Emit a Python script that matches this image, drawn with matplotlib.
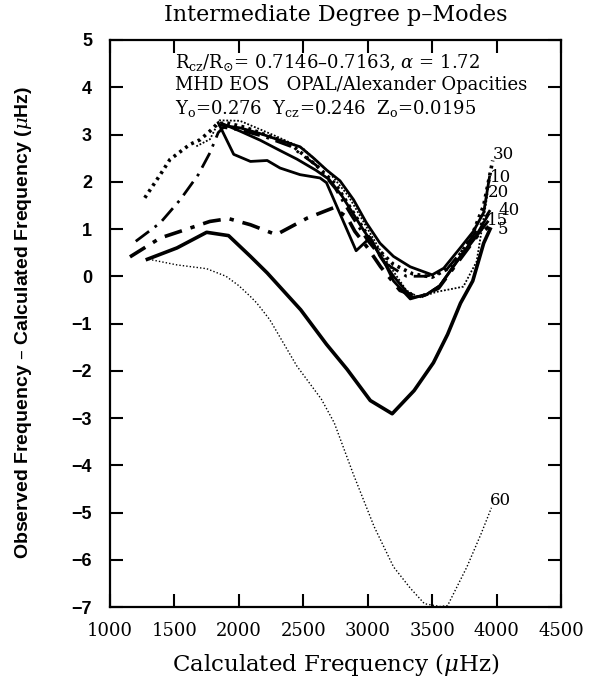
import matplotlib
matplotlib.use("Agg")
import matplotlib.pyplot as plt

plt.rcParams['mathtext.fontset'] = 'dejavuserif'

# ---- data ----
x_ticks = [1000, 1500, 2000, 2500, 3000, 3500, 4000, 4500]
y_ticks = [5, 4, 3, 2, 1, 0, -1, -2, -3, -4, -5, -6, -7]

# thin dotted, l = 60
f_l60 = [1300, 1520, 1750, 1900, 2000, 2090, 2140, 2240, 2450, 2640, 2740, 2890, 3050, 3200, 3330, 3440, 3560, 3620, 3770, 3880, 3960]
d_l60 = [0.36, 0.24, 0.16, 0.0, -0.2, -0.43, -0.57, -0.92, -1.9, -2.6, -3.1, -4.2, -5.3, -6.15, -6.6, -6.93, -6.99, -6.97, -6.15, -5.45, -4.9]

# thick solid, deepest dip
f_deep = [1290, 1520, 1750, 1920, 2090, 2220, 2480, 2680, 2840, 3020, 3190, 3360, 3510, 3620, 3720, 3815, 3900, 3950]
d_deep = [0.36, 0.6, 0.93, 0.86, 0.42, 0.07, -0.71, -1.44, -1.97, -2.63, -2.91, -2.42, -1.83, -1.23, -0.57, -0.1, 0.7, 1.0]

# solid, upper path
f_sol1 = [1850, 2010, 2165, 2295, 2475, 2580, 2680, 2785, 2890, 2990, 3095, 3200, 3330, 3500, 3590, 3715, 3820, 3900, 3945]
d_sol1 = [3.2, 3.14, 3.02, 2.9, 2.74, 2.5, 2.25, 2.02, 1.62, 1.13, 0.7, 0.42, 0.2, 0.03, 0.17, 0.59, 0.95, 1.35, 2.1]

# solid, second path
f_sol2 = [1880, 2010, 2165, 2320, 2450, 2600, 2700, 2800, 2950, 3120, 3200, 3330, 3460, 3560, 3690, 3845, 3930]
d_sol2 = [3.22, 3.07, 2.88, 2.66, 2.48, 2.24, 2.05, 1.7, 1.05, 0.35, -0.1, -0.48, -0.38, -0.2, 0.3, 0.85, 1.15]

# solid with loop
f_sol3 = [1840, 1960, 2090, 2220, 2320, 2475, 2630, 2680, 2910, 3020, 3100, 3200, 3340, 3450, 3560, 3700, 3850, 3935]
d_sol3 = [3.25, 2.58, 2.43, 2.45, 2.29, 2.15, 2.08, 1.98, 0.54, 0.82, 0.4, 0.0, -0.45, -0.4, -0.2, 0.35, 0.9, 1.3]

# dash-dot, steep rise
f_dd1 = [1200, 1390, 1545, 1685, 1775, 1840, 1880, 2000, 2200, 2400, 2600, 2750, 2870, 3000, 3150, 3300, 3450, 3600, 3750, 3880, 3950]
d_dd1 = [0.74, 1.13, 1.62, 2.15, 2.61, 3.04, 3.15, 3.1, 2.95, 2.75, 2.35, 1.85, 1.3, 0.75, 0.25, 0.0, 0.0, 0.1, 0.6, 1.1, 1.4]

# dash-dot, lower
f_dd2 = [1155, 1390, 1545, 1775, 1920, 2090, 2290, 2530, 2735, 2840, 2900, 3000, 3100, 3250, 3400, 3550, 3700, 3850, 3940]
d_dd2 = [0.41, 0.81, 0.95, 1.16, 1.22, 1.09, 0.88, 1.23, 1.45, 1.25, 0.95, 0.6, 0.2, -0.3, -0.45, -0.25, 0.3, 0.85, 1.05]

# bold dotted
f_bd = [1270, 1390, 1465, 1620, 1700, 1775, 1830, 1900, 2050, 2200, 2400, 2600, 2750, 2900, 3050, 3200, 3350, 3500, 3650, 3800, 3900, 3970]
d_bd = [1.66, 2.15, 2.47, 2.79, 2.89, 3.07, 3.22, 3.25, 3.15, 3.0, 2.8, 2.35, 1.95, 1.3, 0.65, 0.25, 0.05, -0.02, 0.2, 0.8, 1.5, 2.45]

# thin dotted, upper
f_td = [1670, 1776, 1850, 2008, 2138, 2300, 2500, 2700, 2850, 3000, 3150, 3300, 3400, 3535, 3650, 3742, 3845, 3930]
d_td = [2.75, 2.9, 3.3, 3.29, 3.14, 2.95, 2.7, 2.2, 1.7, 1.0, 0.3, -0.3, -0.45, -0.33, -0.27, -0.22, 0.31, 1.75]

# curve labels
lab_text = ['30', '10', '20', '40', '15', '5', '60']
lab_f = [3972, 3949, 3933, 4011, 3926, 4011, 3949]
lab_d = [2.57, 2.10, 1.78, 1.40, 1.19, 0.98, -4.74]

# ---- figure ----
fig = plt.figure(figsize=(5.89, 6.87), dpi=100)
ax = fig.add_axes([110/589, 80/687, 451/589, 567/687])

k = 'black'
ax.plot(f_l60, d_l60, color=k, lw=1.0, ls=(0, (1, 1.5)))
ax.plot(f_deep, d_deep, color=k, lw=2.6)
ax.plot(f_sol1, d_sol1, color=k, lw=2.0)
ax.plot(f_sol2, d_sol2, color=k, lw=2.0)
ax.plot(f_sol3, d_sol3, color=k, lw=2.0)
ax.plot(f_dd1, d_dd1, color=k, lw=2.0, ls=(0, (6, 2.5, 1, 2.5)))
ax.plot(f_dd2, d_dd2, color=k, lw=2.6, ls=(0, (5, 2.5, 1.2, 2.5)))
ax.plot(f_bd, d_bd, color=k, lw=2.6, ls=(0, (0.8, 1.2)))
ax.plot(f_td, d_td, color=k, lw=1.3, ls=(0, (1, 1)))

for t, fx, dy in zip(lab_text, lab_f, lab_d):
    ax.text(fx, dy, t, ha='left', va='center', fontsize=12, family='DejaVu Serif')

ax.set_xlim(1000, 4500)
ax.set_ylim(-7, 5)
ax.set_xticks(x_ticks)
ax.set_yticks(y_ticks)
ax.set_xticklabels([str(v) for v in x_ticks], family='DejaVu Serif', fontsize=13)
ax.set_yticklabels([str(v).replace('-', '\u2212') for v in y_ticks], family='Liberation Sans', fontweight='bold', fontsize=13)
ax.tick_params(axis='both', direction='in', top=True, right=True, length=9.5, width=1.5)
ax.tick_params(axis='x', pad=11)
ax.tick_params(axis='y', pad=13)
for s in ax.spines.values():
    s.set_linewidth(1.6)

ann_x = 0.144
ax.text(ann_x, 0.961, "R$_{\\rm cz}$/R$_{\\odot}$= 0.7146\u20130.7163, $\\alpha$ = 1.72",
        transform=ax.transAxes, fontsize=13, family='DejaVu Serif', va='center')
ax.text(ann_x, 0.920, "MHD EOS   OPAL/Alexander Opacities",
        transform=ax.transAxes, fontsize=13, family='DejaVu Serif', va='center')
ax.text(ann_x, 0.880, "Y$_{\\rm o}$=0.276  Y$_{\\rm cz}$=0.246  Z$_{\\rm o}$=0.0195",
        transform=ax.transAxes, fontsize=13, family='DejaVu Serif', va='center')

fig.text(335.5/589, 1 - 15/687, "Intermediate Degree p\u2013Modes", ha='center', va='center',
         fontsize=16, family='DejaVu Serif')
fig.text(335.5/589, 1 - 664/687, "Calculated Frequency ($\\mu$Hz)", ha='center', va='center',
         fontsize=16.5, family='DejaVu Serif')
fig.text(24/589, 1 - 322/687, "Observed Frequency \u2013 Calculated Frequency ($\\mu$Hz)",
         ha='center', va='center', rotation=90, fontsize=14, family='Liberation Sans',
         fontweight='bold')

fig.savefig('out.png', dpi=100)
